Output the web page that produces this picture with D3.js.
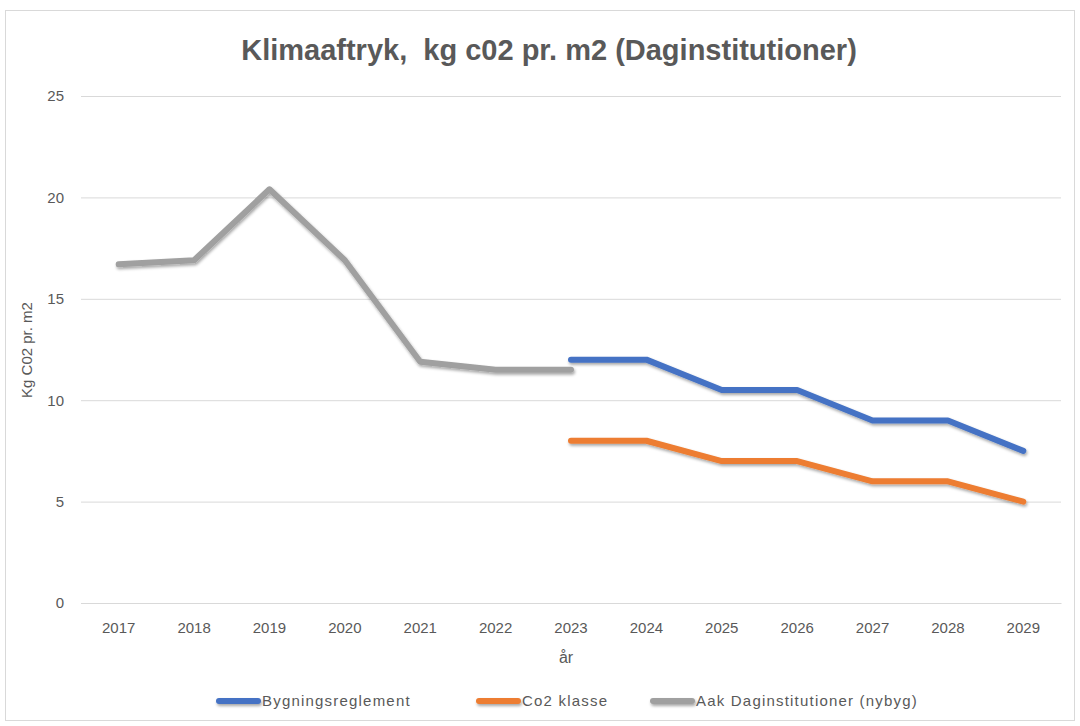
<!DOCTYPE html>
<html><head><meta charset="utf-8">
<script src="https://cdn.jsdelivr.net/npm/d3@7"></script>
<style>body{margin:0;background:#fff}svg{display:block}</style>
</head><body><svg id="c" width="1080" height="726"></svg>
<script>
const years = ["2017","2018","2019","2020","2021","2022","2023","2024","2025","2026","2027","2028","2029"];
const bygningsreglement = [null,null,null,null,null,null,12,12,10.5,10.5,9,9,7.5];
const co2Klasse = [null,null,null,null,null,null,8,8,7,7,6,6,5];
const aakDaginstitutioner = [16.7,16.9,20.4,16.9,11.9,11.5,11.5,null,null,null,null,null,null];
const yTicks = [0,5,10,15,20,25];
const seriesNames = ["Bygningsreglement","Co2 klasse","Aak Daginstitutioner (nybyg)"];
const seriesColors = ["#4472C4","#ED7D31","#A0A0A0"];

const svg = d3.select("#c");
const font = "'Liberation Sans',Arial,sans-serif";
const txt = "#595959";

svg.append("rect").attr("x",5.5).attr("y",10.5).attr("width",1069).attr("height",710)
  .attr("fill","#fff").attr("stroke","#d9d9d9");

const defs = svg.append("defs");
const f = defs.append("filter").attr("id","sh").attr("filterUnits","userSpaceOnUse")
  .attr("x",0).attr("y",0).attr("width",1080).attr("height",726);
f.append("feDropShadow").attr("dx",1).attr("dy",2).attr("stdDeviation",1.5).attr("flood-color","#000").attr("flood-opacity",0.35);

const x = d3.scaleBand().domain(years).range([81,1061]);
const y = d3.scaleLinear().domain([0,25]).range([603,96]);

svg.append("text").attr("x",549).attr("y",60).attr("text-anchor","middle")
  .attr("font-family",font).attr("font-size",29).attr("font-weight","bold").attr("fill",txt)
  .attr("xml:space","preserve").text("Klimaaftryk,  kg c02 pr. m2 (Daginstitutioner)");

const gy = svg.append("g").attr("transform","translate(81,0)")
  .call(d3.axisLeft(y).tickValues(yTicks).tickSize(-980).tickPadding(17));
gy.select(".domain").remove();
gy.selectAll(".tick line").attr("stroke","#d9d9d9");
gy.selectAll(".tick text").attr("font-family",font).attr("font-size",15).attr("fill",txt);

const gx = svg.append("g").attr("transform","translate(0,603)")
  .call(d3.axisBottom(x).tickSize(0).tickPadding(19));
gx.select(".domain").attr("stroke","#d9d9d9");
gx.selectAll(".tick text").attr("font-family",font).attr("font-size",15).attr("fill",txt);

svg.append("text").attr("x",566).attr("y",663).attr("text-anchor","middle")
  .attr("font-family",font).attr("font-size",16).attr("fill",txt).text("år");
svg.append("text").attr("transform","translate(32,350) rotate(-90)").attr("text-anchor","middle")
  .attr("font-family",font).attr("font-size",15).attr("fill",txt).text("Kg C02 pr. m2");

const data = [bygningsreglement, co2Klasse, aakDaginstitutioner];
const line = d3.line().defined(d=>d[1]!=null).x(d=>x(d[0])+x.bandwidth()/2).y(d=>y(d[1]));
[2,0,1].forEach(i=>{
  svg.append("path").datum(years.map((yr,j)=>[yr,data[i][j]]))
    .attr("d",line).attr("fill","none").attr("stroke",seriesColors[i]).attr("stroke-width",6)
    .attr("stroke-linecap","round").attr("stroke-linejoin","round").attr("filter","url(#sh)");
});

const legX = [216,476,650];
seriesNames.forEach((n,i)=>{
  const g = svg.append("g");
  g.append("line").attr("x1",legX[i]+3).attr("x2",legX[i]+42).attr("y1",701).attr("y2",701)
    .attr("stroke",seriesColors[i]).attr("stroke-width",6).attr("stroke-linecap","round").attr("filter","url(#sh)");
  g.append("text").attr("x",legX[i]+46).attr("y",706).attr("font-family",font).attr("font-size",15)
    .attr("letter-spacing",1.2).attr("fill",txt).text(n);
});
</script></body></html>
